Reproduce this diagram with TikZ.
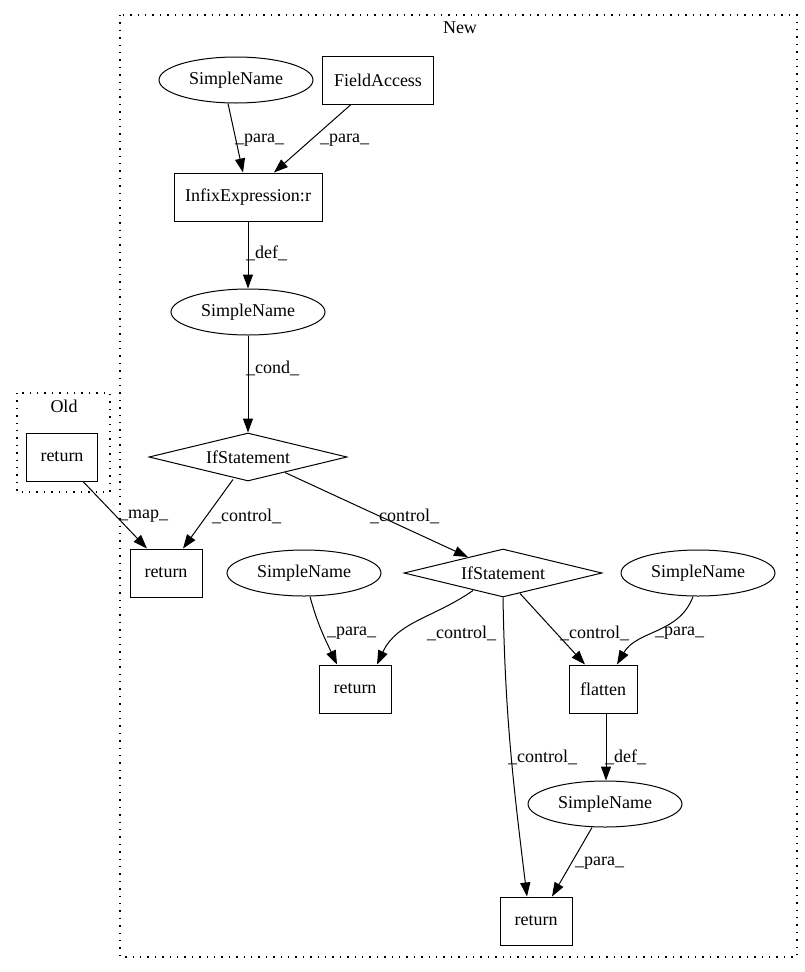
\documentclass[tikz,border=0pt]{standalone}
\usepackage{fontspec}
\setmainfont{Liberation Serif}
\usetikzlibrary{arrows.meta,shapes.geometric}
\begin{document}
\begin{tikzpicture}[x=1pt,y=-1pt,
  every node/.style={font=\fontsize{18}{20}\selectfont, inner sep=0pt},
  boxnode/.style={draw, line width=1pt, rectangle, minimum height=48pt},
  ellnode/.style={draw, line width=1pt, ellipse, minimum width=154pt, minimum height=46pt},
  dianode/.style={draw, line width=1pt, diamond, shape aspect=4, minimum width=198pt, minimum height=48pt},
  cluster/.style={draw, line width=1.4pt, dash pattern=on 1.4pt off 6pt},
  edge/.style={draw, line width=1pt, -{Triangle[length=14pt,width=10pt]}},
  lbl/.style={anchor=west}
]
\useasboundingbox (0,0) rectangle (805,972);
% clusters
\draw[cluster] (17,393) rectangle (110,492);
\node (oldlbl) at (64,406) {Old};
\draw[cluster] (120,15) rectangle (797,957);
\node (newlbl) at (460,28) {New};

% nodes
\node[boxnode, minimum width=71pt] (ret0) at (62,457) {return};
\node[ellnode] (sn1) at (236,80) {SimpleName};
\node[boxnode, minimum width=111pt] (fa) at (378,80) {FieldAccess};
\node[boxnode, minimum width=148pt] (infix) at (248,197) {InfixExpression:r};
\node[ellnode] (sn2) at (248,312) {SimpleName};
\node[dianode] (if1) at (248,457) {IfStatement};
\node[boxnode, minimum width=72pt] (ret1) at (166,573) {return};
\node[dianode] (if2) at (503,573) {IfStatement};
\node[ellnode] (sn3) at (304,573) {SimpleName};
\node[ellnode] (sn4) at (698,573) {SimpleName};
\node[boxnode, minimum width=72pt] (ret2) at (355,689) {return};
\node[boxnode, minimum width=68pt] (flatten) at (603,689) {flatten};
\node[ellnode] (sn5) at (605,804) {SimpleName};
\node[boxnode, minimum width=72pt] (ret3) at (536,921) {return};

% edges
\draw[edge] ([xshift=-8pt]sn1.south) -- ([xshift=-5pt]infix.north);
\draw[edge] ([xshift=-27pt]fa.south) -- ([xshift=26pt]infix.north);
\draw[edge] (infix.south) -- (sn2.north);
\draw[edge] (sn2.south) -- (if1.north);
\draw[edge] ([xshift=21pt]ret0.south) -- ([xshift=-19pt]ret1.north);
\draw[edge] ([xshift=-15pt,yshift=2pt]if1.south) -- ([xshift=17pt]ret1.north);
\draw[edge] ([xshift=37pt,yshift=9pt]if1.south) -- ([xshift=-35pt,yshift=-8.5pt]if2.north);
\draw[edge] ([xshift=6pt]sn3.south) to[out=-75,in=115] ([xshift=-18pt]ret2.north);
\draw[edge] ([xshift=-30pt,yshift=7pt]if2.south) to[out=-145,in=65] ([xshift=22pt]ret2.north);
\draw[edge] ([xshift=17pt,yshift=4pt]if2.south) -- ([xshift=-18pt]flatten.north);
\draw[edge] ([xshift=-5pt]sn4.south) to[out=-110,in=60] ([xshift=14pt]flatten.north);
\draw[edge] (if2.south) to[out=-89,in=97] ([xshift=-9pt]ret3.north);
\draw[edge] ([xshift=3pt]flatten.south) -- ([xshift=1pt]sn5.north);
\draw[edge] ([xshift=-13pt]sn5.south) -- ([xshift=16pt]ret3.north);

% labels
\node[lbl] (l1) at (235,140) {\_para\_};
\node[lbl] (l2) at (320,140) {\_para\_};
\node[lbl] (l3) at (246,253) {\_def\_};
\node[lbl] (l4) at (246,368) {\_cond\_};
\node[lbl] (l5) at (119,516) {\_map\_};
\node[lbl] (l6) at (212,516) {\_control\_};
\node[lbl] (l7) at (370,516) {\_control\_};
\node[lbl] (l8) at (327,633) {\_para\_};
\node[lbl] (l9) at (427,633) {\_control\_};
\node[lbl] (l10) at (560,633) {\_control\_};
\node[lbl] (l11) at (655,633) {\_para\_};
\node[lbl] (l12) at (508,757) {\_control\_};
\node[lbl] (l13) at (605,757) {\_def\_};
\node[lbl] (l14) at (575,863) {\_para\_};
\end{tikzpicture}
\end{document}
